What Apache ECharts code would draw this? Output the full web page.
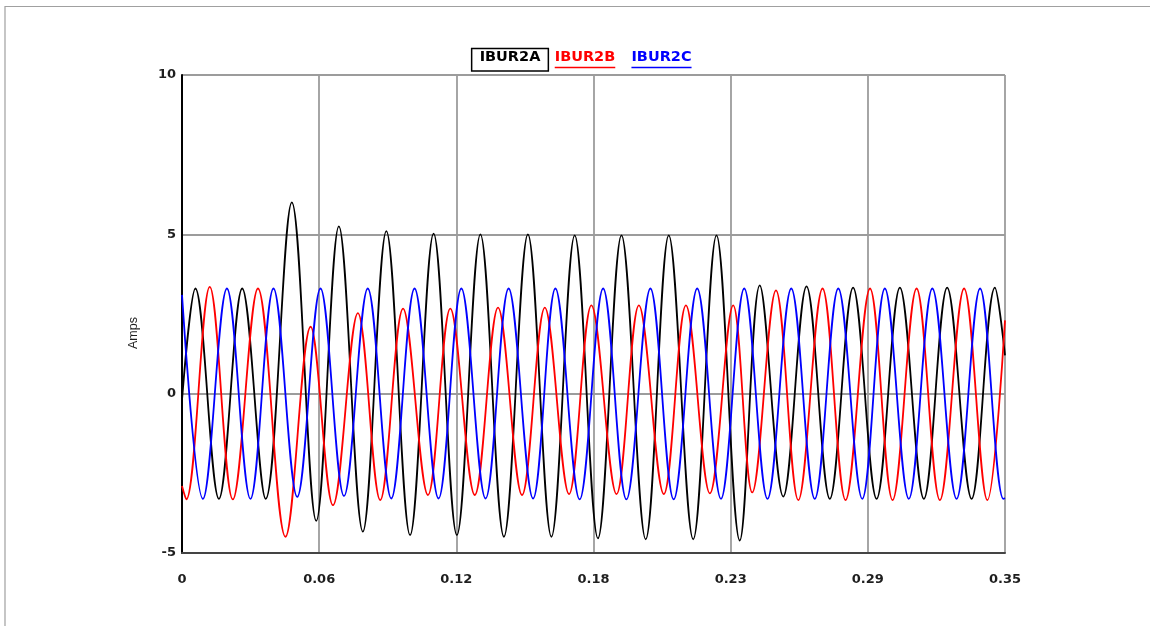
<!DOCTYPE html>
<html>
<head>
<meta charset="utf-8">
<title>IBUR2 phase currents</title>
<script src="https://cdn.jsdelivr.net/npm/echarts@6/dist/echarts.min.js"></script>
<style>
  html, body { margin: 0; padding: 0; background: #ffffff; }
  #chart { width: 1150px; height: 626px; }
</style>
</head>
<body>
<div id="chart"></div>
<script>
// Phase currents (A) at each waveform peak / trough, plus the window edges.
const seriesNames = ['IBUR2A', 'IBUR2B', 'IBUR2C'];
const seriesColors = ['#000000', '#ff0000', '#0000ff'];

const aTimes = [0, 0.0057, 0.0157, 0.0256, 0.0356, 0.0467, 0.0571, 0.0667, 0.0769, 0.0869,
  0.0970, 0.1070, 0.1169, 0.1269, 0.1369, 0.1471, 0.1571, 0.1670, 0.1769, 0.1869,
  0.1972, 0.2070, 0.2174, 0.2273, 0.2372, 0.2457, 0.2557, 0.2656, 0.2755, 0.2854,
  0.2954, 0.3053, 0.3155, 0.3254, 0.3358, 0.3457, 0.35];
const aAmps = [-0.2, 3.3, -3.3, 3.3, -3.3, 6.0, -3.99, 5.25, -4.33, 5.1,
  -4.44, 5.02, -4.44, 5.0, -4.49, 5.0, -4.49, 4.97, -4.54, 4.97,
  -4.57, 4.97, -4.57, 4.97, -4.61, 3.4, -3.23, 3.37, -3.3, 3.33,
  -3.3, 3.33, -3.3, 3.33, -3.3, 3.33, 1.2];

const bTimes = [0, 0.0018, 0.0118, 0.0216, 0.0323, 0.0440, 0.0547, 0.0642, 0.0748, 0.0843,
  0.0940, 0.1046, 0.1141, 0.1245, 0.1344, 0.1446, 0.1543, 0.1646, 0.1741, 0.1848,
  0.1943, 0.2049, 0.2143, 0.2245, 0.2344, 0.2425, 0.2526, 0.2621, 0.2724, 0.2822,
  0.2926, 0.3022, 0.3124, 0.3223, 0.3326, 0.3425, 0.35];
const bAmps = [-2.9, -3.32, 3.35, -3.32, 3.3, -4.49, 2.1, -3.5, 2.53, -3.34,
  2.67, -3.18, 2.67, -3.18, 2.7, -3.18, 2.7, -3.15, 2.77, -3.15,
  2.77, -3.15, 2.77, -3.13, 2.77, -3.1, 3.24, -3.34, 3.3, -3.34,
  3.3, -3.34, 3.3, -3.34, 3.3, -3.34, 2.3];

const cTimes = [0, 0.0089, 0.0191, 0.0291, 0.0389, 0.0490, 0.0589, 0.0689, 0.0790, 0.0890,
  0.0989, 0.1091, 0.1188, 0.1291, 0.1389, 0.1493, 0.1588, 0.1691, 0.1791, 0.1890,
  0.1992, 0.2091, 0.2191, 0.2292, 0.2391, 0.2490, 0.2591, 0.2691, 0.2791, 0.2893,
  0.2989, 0.3091, 0.3191, 0.3294, 0.3394, 0.3493, 0.35];
const cAmps = [3.1, -3.3, 3.3, -3.3, 3.3, -3.24, 3.3, -3.21, 3.3, -3.29,
  3.3, -3.29, 3.3, -3.29, 3.3, -3.29, 3.3, -3.32, 3.3, -3.32,
  3.3, -3.32, 3.3, -3.3, 3.3, -3.3, 3.3, -3.3, 3.3, -3.3,
  3.3, -3.3, 3.3, -3.3, 3.3, -3.3, -3.28];

// Time axis: six equal divisions of the 0.35 s window, labelled to two decimals.
const xTickLabels = ['0', '0.06', '0.12', '0.18', '0.23', '0.29', '0.35'];
const xMax = 0.35;
const xStep = xMax / (xTickLabels.length - 1);

const yMin = -5, yMax = 10, yStep = 5;

const pair = (ts, vs) => ts.map((t, i) => [t, vs[i]]);
const waveData = [pair(aTimes, aAmps), pair(bTimes, bAmps), pair(cTimes, cAmps)];

const labelFont = 'DejaVu Sans';
const gridColor = '#9c9c9c';

// Legend drawn as text: first entry boxed, the others underlined in their colour.
const legendFontSize = 14.5;
const legendCenters = [510, 585, 661.5];
const legendY = 57;
const measureCtx = document.createElement('canvas').getContext('2d');
measureCtx.font = 'bold ' + legendFontSize + 'px "' + labelFont + '"';

const legendGraphics = [];
seriesNames.forEach((name, i) => {
  const w = measureCtx.measureText(name).width;
  const cx = legendCenters[i];
  legendGraphics.push({
    type: 'text',
    x: cx, y: legendY,
    style: {
      text: name, fill: seriesColors[i],
      font: 'bold ' + legendFontSize + 'px "' + labelFont + '"',
      textAlign: 'center', textVerticalAlign: 'middle'
    },
    silent: true
  });
  if (i === 0) {
    legendGraphics.push({
      type: 'rect',
      shape: { x: cx - w / 2 - 8, y: 48.5, width: w + 16, height: 22.5 },
      style: { fill: 'none', stroke: '#000000', lineWidth: 1.5 },
      silent: true
    });
  } else {
    legendGraphics.push({
      type: 'line',
      shape: { x1: cx - w / 2, y1: 67.5, x2: cx + w / 2, y2: 67.5 },
      style: { stroke: seriesColors[i], lineWidth: 1.6 },
      silent: true
    });
  }
});

const chart = echarts.init(document.getElementById('chart'), null, { renderer: 'canvas' });

chart.setOption({
  animation: false,
  backgroundColor: '#ffffff',
  grid: { left: 182, right: 145, top: 75, bottom: 73, containLabel: false },
  graphic: [
    {
      type: 'polyline',
      shape: { points: [[5, 626], [5, 6.5], [1150, 6.5]] },
      style: { stroke: '#a0a0a0', lineWidth: 1.2, fill: 'none' },
      silent: true
    }
  ].concat(legendGraphics),
  xAxis: {
    type: 'value',
    min: 0,
    max: xMax,
    interval: xStep,
    axisLine: { show: true, onZero: false, lineStyle: { color: '#444444', width: 2 } },
    axisTick: { show: false },
    splitLine: { show: true, lineStyle: { color: gridColor, width: 1.8 } },
    axisLabel: {
      margin: 20,
      color: '#1e1e1e',
      fontFamily: labelFont,
      fontWeight: 'bold',
      fontSize: 13,
      formatter: v => xTickLabels[Math.round(v / xStep)]
    }
  },
  yAxis: {
    type: 'value',
    min: yMin,
    max: yMax,
    interval: yStep,
    name: 'Amps',
    nameLocation: 'middle',
    nameRotate: 90,
    nameGap: 42,
    nameTextStyle: {
      fontFamily: 'Liberation Sans',
      fontSize: 12.5,
      color: '#1e1e1e',
      padding: [0, 38, 0, 0]
    },
    axisLine: { show: true, onZero: false, lineStyle: { color: '#000000', width: 2 } },
    axisTick: { show: false },
    splitLine: { show: true, lineStyle: { color: gridColor, width: 1.8 } },
    axisLabel: {
      margin: 6,
      color: '#1e1e1e',
      fontFamily: labelFont,
      fontWeight: 'bold',
      fontSize: 13
    }
  },
  series: seriesNames.map((name, i) => ({
    name: name,
    type: 'line',
    data: waveData[i],
    smooth: 0.36,
    showSymbol: false,
    symbol: 'none',
    lineStyle: { color: seriesColors[i], width: 1.8 },
    emphasis: { disabled: true }
  }))
});
</script>
</body>
</html>
